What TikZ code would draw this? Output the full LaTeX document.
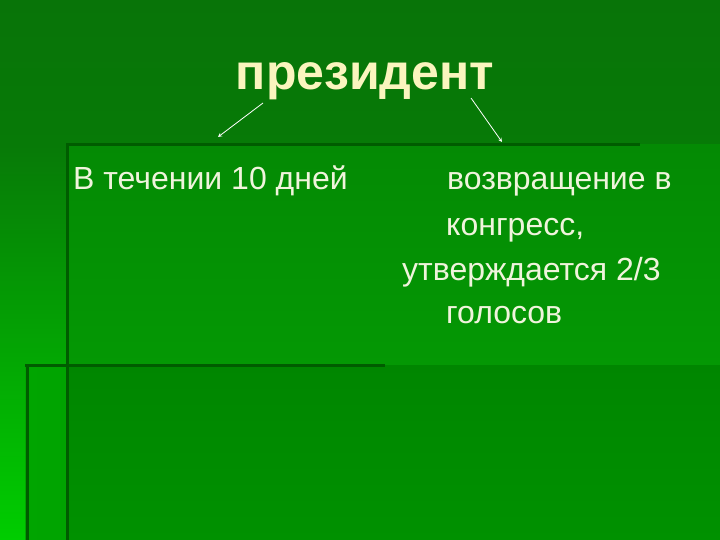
\documentclass[tikz,border=0pt]{standalone}
\usepackage{fontspec}
\setmainfont{Liberation Sans}
\definecolor{bgtop}{RGB}{8,116,8}
\definecolor{bgmid}{RGB}{4,138,4}
\definecolor{stripa}{RGB}{7,122,7}
\definecolor{panel}{RGB}{4,152,4}
\definecolor{edge}{RGB}{0,92,0}
\definecolor{cream}{RGB}{250,245,190}
\definecolor{txt}{RGB}{240,244,220}
\begin{document}
\begin{tikzpicture}[x=1pt,y=-1pt]
\tikzstyle{title}=[font=\bfseries\fontsize{50}{54}\selectfont,text=cream,inner sep=0pt,anchor=base]
\tikzstyle{line}=[font=\fontsize{32}{36}\selectfont,text=txt,inner sep=0pt,anchor=base west]
\tikzstyle{edge}=[draw=edge,line width=3pt]

\useasboundingbox (0,0) rectangle (720,540);
\fill[top color=bgtop,bottom color=bgmid] (0,0) rectangle (720,540);
\fill[top color=stripa,bottom color={rgb,255:red,0;green,205;blue,0}] (0,145) rectangle (66,540);
\fill[top color=bgmid,bottom color=panel] (66,145) rectangle (720,365);
\fill[left color={rgb,255:red,0;green,165;blue,0},right color={rgb,255:red,0;green,136;blue,0}] (25,365) rectangle (720,540);
\fill[top color={rgb,255:red,0;green,134;blue,0},bottom color={rgb,255:red,0;green,145;blue,0}] (66,365) rectangle (720,540);

\draw[edge] (66,145) -- (640,145);
\draw[edge] (67,145) -- (67,540);
\draw[edge] (25,365) -- (385,365);
\draw[edge] (27,365) -- (27,540);

\node[title] (pres) at (365,90) {президент};

\node[line] (days) at (73,190) {В течении 10 дней};
\node[line] (r1) at (447,190) {возвращение в};
\node[line] (r2) at (446,236) {конгресс,};
\node[line] (r3) at (402,280) {утверждается 2/3};
\node[line] (r4) at (446,323) {голосов};

\coordinate (a1) at (263,103);
\coordinate (a2) at (218,137);
\coordinate (b1) at (471,98);
\coordinate (b2) at (502,142);
\draw[-stealth,white,line width=0.8pt] (a1) -- (a2);
\draw[-stealth,white,line width=0.8pt] (b1) -- (b2);

\end{tikzpicture}
\end{document}
